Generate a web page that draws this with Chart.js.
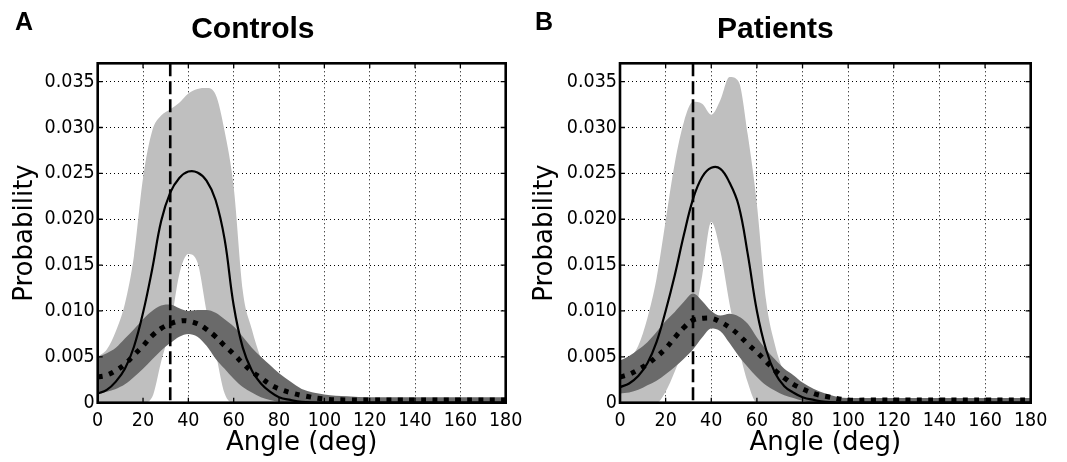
<!DOCTYPE html>
<html>
<head>
<meta charset="utf-8">
<title>Angle distributions</title>
<script src="https://cdn.jsdelivr.net/npm/chart.js@4.4.1/dist/chart.umd.min.js"></script>
<style>
  html, body { margin: 0; padding: 0; background: #fff; }
  #wrap { position: relative; width: 1067px; height: 462px; overflow: hidden; }
  canvas { position: absolute; top: 0; }
  #controls { left: 0; }
  #patients { left: 520px; }
</style>
</head>
<body>
<div id="wrap">
  <canvas id="controls" width="540" height="462"></canvas>
  <canvas id="patients" width="547" height="462"></canvas>
</div>
<script>
// angles (deg) every curve is sampled at
var angles = [0, 4, 8, 12, 16, 20, 24, 28, 32, 36, 40, 44, 48, 52, 56, 60, 64, 68, 72, 76, 80, 85, 90, 100, 110, 120, 140, 160, 180];

var angleTicks = [0, 20, 40, 60, 80, 100, 120, 140, 160, 180];
var probTicks = [0, 0.005, 0.010, 0.015, 0.020, 0.025, 0.030, 0.035];
var probMax = 0.037;
var cutoffAngle = 32;

// controls
var controlsSolid      = [0.0010, 0.0014, 0.0023, 0.0037, 0.0061, 0.0098, 0.0145, 0.0198, 0.0229, 0.0245, 0.0252, 0.0251, 0.0242, 0.0221, 0.0178, 0.0106, 0.0060, 0.0035, 0.0021, 0.0012, 0.0006, 0.0003, 0.0001, 0, 0, 0, 0, 0, 0];
var controlsSolidUpper = [0.0050, 0.0058, 0.0078, 0.0108, 0.0160, 0.0245, 0.0296, 0.0313, 0.0320, 0.0327, 0.0337, 0.0342, 0.0343, 0.0336, 0.0296, 0.0235, 0.0122, 0.0080, 0.0048, 0.0024, 0.0009, 0.0003, 0.0001, 0, 0, 0, 0, 0, 0];
var controlsSolidLower = [0, 0, 0, 0, 0, 0, 0.0006, 0.0045, 0.0082, 0.0140, 0.0162, 0.0153, 0.0100, 0.0055, 0.0010, 0, 0, 0, 0, 0, 0, 0, 0, 0, 0, 0, 0, 0, 0];
var controlsDotted      = [0.0028, 0.0030, 0.0035, 0.0042, 0.0052, 0.0062, 0.0073, 0.0081, 0.0086, 0.0089, 0.0089, 0.0086, 0.0080, 0.0072, 0.0062, 0.0053, 0.0043, 0.0034, 0.0027, 0.0020, 0.0015, 0.0011, 0.0008, 0.0004, 0.0003, 0.0003, 0.0003, 0.0003, 0.0003];
var controlsDottedUpper = [0.0050, 0.0054, 0.0060, 0.0070, 0.0080, 0.0091, 0.0100, 0.0106, 0.0107, 0.0103, 0.0100, 0.0101, 0.0101, 0.0098, 0.0091, 0.0083, 0.0072, 0.0060, 0.0050, 0.0041, 0.0032, 0.0023, 0.0015, 0.0009, 0.0007, 0.0006, 0.0006, 0.0006, 0.0006];
var controlsDottedLower = [0.0010, 0.0012, 0.0015, 0.0020, 0.0028, 0.0037, 0.0047, 0.0057, 0.0065, 0.0072, 0.0075, 0.0072, 0.0062, 0.0048, 0.0037, 0.0026, 0.0017, 0.0011, 0.0006, 0.0003, 0.0001, 0, 0, 0, 0, 0, 0, 0, 0];

// patients
var patientsSolid      = [0.0017, 0.0021, 0.0029, 0.0043, 0.0066, 0.0100, 0.0139, 0.0183, 0.0222, 0.0246, 0.0256, 0.0255, 0.0240, 0.0215, 0.0162, 0.0100, 0.0058, 0.0032, 0.0018, 0.0011, 0.0006, 0.0003, 0.0001, 0, 0, 0, 0, 0, 0];
var patientsSolidUpper = [0.0043, 0.0048, 0.0062, 0.0092, 0.0135, 0.0198, 0.0261, 0.0306, 0.0328, 0.0326, 0.0314, 0.0330, 0.0355, 0.0350, 0.0292, 0.0216, 0.0112, 0.0062, 0.0032, 0.0013, 0.0004, 0.0001, 0, 0, 0, 0, 0, 0, 0];
var patientsSolidLower = [0, 0, 0, 0, 0, 0.0012, 0.0034, 0.0060, 0.0087, 0.0138, 0.0197, 0.0165, 0.0108, 0.0060, 0.0022, 0, 0, 0, 0, 0, 0, 0, 0, 0, 0, 0, 0, 0, 0];
var patientsDotted      = [0.0028, 0.0031, 0.0036, 0.0042, 0.0050, 0.0059, 0.0071, 0.0082, 0.0090, 0.0092, 0.0092, 0.0088, 0.0082, 0.0074, 0.0064, 0.0055, 0.0045, 0.0035, 0.0027, 0.0020, 0.0015, 0.0010, 0.0007, 0.0003, 0.0003, 0.0003, 0.0003, 0.0003, 0.0003];
var patientsDottedUpper = [0.0046, 0.0051, 0.0058, 0.0066, 0.0077, 0.0089, 0.0099, 0.0110, 0.0119, 0.0111, 0.0100, 0.0095, 0.0097, 0.0094, 0.0086, 0.0071, 0.0058, 0.0047, 0.0037, 0.0030, 0.0022, 0.0015, 0.0010, 0.0005, 0.0005, 0.0005, 0.0005, 0.0005, 0.0005];
var patientsDottedLower = [0.0010, 0.0011, 0.0014, 0.0019, 0.0024, 0.0031, 0.0039, 0.0048, 0.0058, 0.0071, 0.0081, 0.0078, 0.0065, 0.0051, 0.0039, 0.0028, 0.0019, 0.0013, 0.0008, 0.0005, 0.0002, 0, 0, 0, 0, 0, 0, 0, 0];

var lightGray = "#bfbfbf";
var darkGray = "#6a6a6a";
var tickFont = { family: "'DejaVu Sans Condensed', 'DejaVu Sans', sans-serif", size: 19.5 };
var labelFont = { family: "'DejaVu Sans', sans-serif", size: 26, lineHeight: 1 };

function toPoints(values) {
  return values.map(function (v, i) { return { x: angles[i], y: v }; });
}

// plain smoothed line through the samples
function curve(values, extra) {
  return Object.assign({
    data: toPoints(values),
    pointRadius: 0,
    tension: 0.4,
    fill: false
  }, extra);
}

// band edge; the upper edge fills down to the next dataset (its lower edge)
function band(values, color) {
  return {
    data: toPoints(values),
    pointRadius: 0,
    cubicInterpolationMode: "monotone",
    borderWidth: 0,
    borderColor: "rgba(0,0,0,0)",
    backgroundColor: color || "rgba(0,0,0,0)",
    fill: color ? "+1" : false
  };
}

// matplotlib-like box: thick frame, inward ticks on all sides, panel letter
var frame = {
  id: "frame",
  afterDatasetsDraw: function (chart, args, opts) {
    var ctx = chart.ctx, a = chart.chartArea;
    var xs = chart.scales.x, ys = chart.scales.y;
    ctx.save();
    ctx.strokeStyle = "#000";
    ctx.lineWidth = 1.3;
    ctx.beginPath();
    angleTicks.forEach(function (t) {
      var px = xs.getPixelForValue(t);
      ctx.moveTo(px, a.bottom); ctx.lineTo(px, a.bottom - 5);
      ctx.moveTo(px, a.top); ctx.lineTo(px, a.top + 5);
    });
    probTicks.forEach(function (t) {
      var py = ys.getPixelForValue(t);
      ctx.moveTo(a.left, py); ctx.lineTo(a.left + 5, py);
      ctx.moveTo(a.right, py); ctx.lineTo(a.right - 5, py);
    });
    ctx.stroke();
    ctx.lineWidth = 2.6;
    ctx.strokeRect(a.left, a.top, a.right - a.left, a.bottom - a.top);
    ctx.fillStyle = "#000";
    ctx.font = "bold 25px 'Liberation Sans', Arial, sans-serif";
    ctx.textBaseline = "alphabetic";
    ctx.fillText(opts.letter, 15, 30);
    ctx.restore();
  }
};

function drawPanel(canvasId, title, letter, s, axisWidth, padRight) {
  new Chart(document.getElementById(canvasId).getContext("2d"), {
    type: "line",
    data: {
      datasets: [
        {
          data: [{ x: cutoffAngle, y: probMax }, { x: cutoffAngle, y: 0 }],
          borderColor: "#000",
          borderWidth: 2.6,
          borderDash: [13, 5],
          pointRadius: 0,
          fill: false
        },
        curve(s.dotted, { borderColor: "#000", borderWidth: 5, borderDash: [5, 6.5], borderCapStyle: "butt" }),
        curve(s.solid, { borderColor: "#000", borderWidth: 2.2 }),
        band(s.dottedUpper, darkGray),
        band(s.dottedLower, null),
        band(s.solidUpper, lightGray),
        band(s.solidLower, null)
      ]
    },
    options: {
      responsive: false,
      animation: false,
      devicePixelRatio: 1,
      layout: { padding: { left: 0, right: padRight, top: 0, bottom: 0 } },
      plugins: {
        legend: { display: false },
        tooltip: { enabled: false },
        title: {
          display: true,
          text: title,
          color: "#000",
          font: { family: "'Liberation Sans', Arial, sans-serif", size: 30, weight: "bold", lineHeight: 1 },
          padding: { top: 14.6, bottom: 18.7 }
        },
        frame: { letter: letter }
      },
      scales: {
        x: {
          type: "linear",
          min: 0,
          max: 180,
          afterBuildTicks: function (scale) {
            scale.ticks = angleTicks.map(function (v) { return { value: v }; });
          },
          afterFit: function (scale) { scale.height = 59.3; },
          ticks: { color: "#000", font: tickFont, padding: 7, maxRotation: 0 },
          grid: { color: "#000", lineWidth: 1, drawTicks: false },
          border: { display: false, dash: [1, 3] },
          title: { display: true, text: "Angle (deg)", color: "#000", font: labelFont, padding: { top: 0, bottom: 5.5 } }
        },
        y: {
          min: 0,
          max: probMax,
          afterBuildTicks: function (scale) {
            scale.ticks = probTicks.map(function (v) { return { value: v }; });
          },
          afterFit: function (scale) { scale.width = axisWidth; },
          ticks: {
            color: "#000",
            font: tickFont,
            padding: 3,
            callback: function (v) { return v === 0 ? "0" : v.toFixed(3); }
          },
          grid: { color: "#000", lineWidth: 1, drawTicks: false },
          border: { display: false, dash: [1, 3] },
          title: { display: true, text: "Probability", color: "#000", font: labelFont, padding: { top: 12, bottom: 0 } }
        }
      }
    },
    plugins: [frame]
  });
}

drawPanel("controls", "Controls", "A", {
  solid: controlsSolid, solidUpper: controlsSolidUpper, solidLower: controlsSolidLower,
  dotted: controlsDotted, dottedUpper: controlsDottedUpper, dottedLower: controlsDottedLower
}, 97.7, 34.3);

drawPanel("patients", "Patients", "B", {
  solid: patientsSolid, solidUpper: patientsSolidUpper, solidLower: patientsSolidLower,
  dotted: patientsDotted, dottedUpper: patientsDottedUpper, dottedLower: patientsDottedLower
}, 100, 36.3);
</script>
</body>
</html>
